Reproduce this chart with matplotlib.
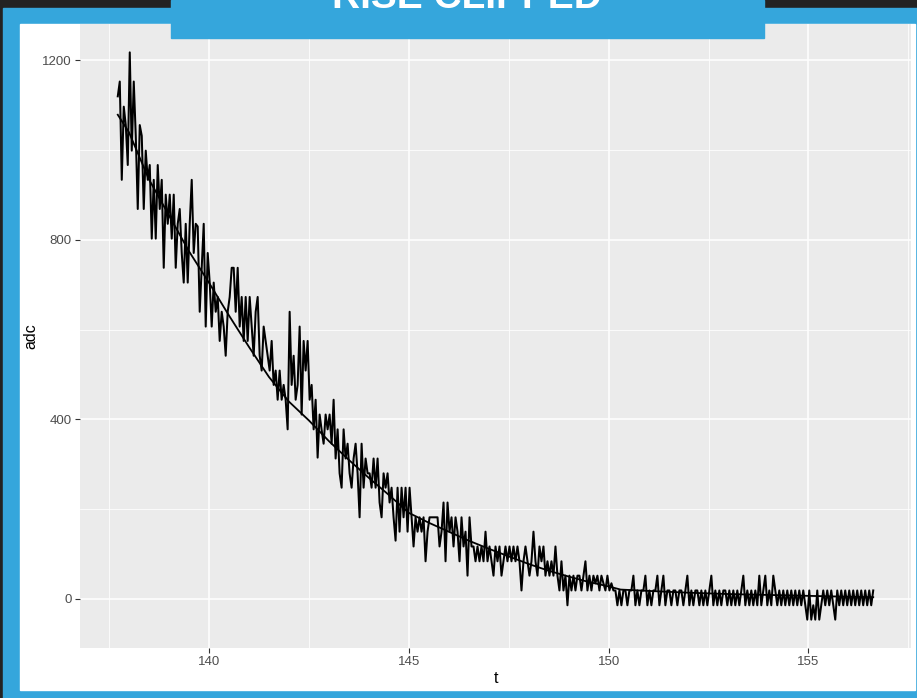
import numpy as np
import matplotlib
matplotlib.use("Agg")
import matplotlib.pyplot as plt
from matplotlib.patches import Rectangle
from matplotlib.ticker import FixedLocator

# ---- data ----
t_start = 137.72
t_step = 0.05
adc = [
    1120, 1153, 934, 1097, 1056, 967, 1218, 999, 1153, 1032,
    869, 1056, 1032, 869, 999, 934, 967, 803, 934, 803,
    967, 869, 934, 738, 901, 836, 901, 803, 901, 738,
    836, 869, 771, 705, 836, 705, 836, 934, 771, 836,
    830, 640, 738, 836, 607, 771, 705, 607, 705, 640,
    673, 575, 640, 607, 542, 640, 673, 738, 738, 640,
    738, 607, 673, 575, 673, 575, 673, 607, 542, 640,
    673, 542, 509, 607, 575, 542, 509, 575, 477, 509,
    444, 509, 444, 477, 444, 378, 640, 477, 542, 444,
    477, 607, 411, 575, 509, 575, 444, 477, 378, 444,
    315, 411, 377, 346, 411, 378, 411, 346, 444, 313,
    378, 280, 248, 378, 313, 346, 280, 248, 313, 346,
    280, 182, 346, 248, 313, 280, 280, 248, 313, 248,
    313, 215, 182, 280, 248, 280, 215, 248, 182, 130,
    248, 150, 248, 182, 248, 150, 248, 182, 117, 182,
    150, 182, 150, 182, 84, 150, 182, 182, 182, 182,
    182, 117, 150, 215, 84, 215, 150, 182, 117, 182,
    150, 84, 182, 117, 150, 52, 182, 117, 117, 84,
    117, 84, 117, 84, 150, 84, 117, 84, 52, 117,
    84, 117, 52, 84, 117, 84, 117, 84, 117, 84,
    117, 84, 19, 84, 117, 84, 52, 84, 150, 84,
    52, 117, 84, 117, 52, 84, 52, 84, 52, 117,
    52, 19, 84, 19, 52, -14, 52, 19, 52, 19,
    52, 52, 19, 52, 84, 19, 52, 19, 52, 35,
    52, 19, 52, 35, 19, 52, 19, 35, 19, 19,
    -14, 19, -14, 19, 19, -14, 19, 19, 52, -14,
    19, -14, 19, 19, 52, -14, 19, -14, 19, 19,
    52, -14, 19, 52, -14, 19, 19, -14, 19, 19,
    -14, 19, 19, -14, 19, 52, -14, 19, -14, 19,
    19, -14, 19, -14, 19, -14, 19, 52, -14, 19,
    -14, 19, -14, 19, 19, -14, 19, -14, 19, -14,
    19, -14, 19, 52, -14, 19, -14, 19, -14, 19,
    -14, 52, -14, 19, 52, -14, 19, -14, 52, 19,
    -14, 19, -14, 19, -14, 19, -14, 19, -14, 19,
    -14, 19, -14, 19, -14, -46, 19, -46, -14, -46,
    19, -46, -14, 19, -14, 19, -14, 19, -14, -46,
    19, -14, 19, -14, 19, -14, 19, -14, 19, -14,
    19, -14, 19, -14, 19, -14, 19, -14, 19,
]
fit_t = [137.72, 138.0, 138.5, 139.0, 139.5, 140.0, 140.5, 141.0, 141.5,
         142.0, 142.5, 143.0, 143.5, 144.0, 144.5, 145.0, 145.5, 146.0,
         146.5, 147.0, 147.5, 148.0, 148.5, 149.0, 149.5, 150.0, 150.3,
         151.0, 152.0, 153.0, 154.0, 155.0, 156.0, 156.62]
fit_adc = [1079, 1040, 935, 855, 775, 705, 632, 562, 495,
           440, 398, 352, 310, 270, 232, 192, 170, 150,
           130, 112, 95, 78, 63, 50, 38, 28, 21,
           18, 14, 11, 9, 7, 5, 4]

x_major = [140, 145, 150, 155]
x_minor = [137.5, 142.5, 147.5, 152.5, 157.5]
y_major = [0, 400, 800, 1200]
y_minor = [200, 600, 1000]

t = t_start + t_step * np.arange(len(adc))
adc = np.array(adc)

W, H = 917, 698
fig = plt.figure(figsize=(W / 100, H / 100), dpi=100)
fig.patch.set_facecolor("#232323")

BLUE = "#35A6DC"
# blue frame and white card
fig.patches.append(Rectangle((3 / W, 0), 914 / W, (H - 8) / H,
                             transform=fig.transFigure, color=BLUE, zorder=-10))
fig.patches.append(Rectangle((20 / W, 8 / H), 895 / W, 666 / H,
                             transform=fig.transFigure, color="white", zorder=-9))

ax = fig.add_axes([80 / W, 50 / H, 831 / W, 624 / H])
ax.set_facecolor("#EBEBEB")
ax.plot(t, adc, color="black", lw=1.45, zorder=3)
ax.plot(fit_t, fit_adc, color="black", lw=1.3, zorder=4)

# ggplot-style 5% expansion
xr = t.max() - t.min()
yr = adc.max() - adc.min()
ax.set_xlim(t.min() - 0.05 * xr, t.max() + 0.05 * xr)
ax.set_ylim(adc.min() - 0.05 * yr, adc.max() + 0.05 * yr)

ax.xaxis.set_major_locator(FixedLocator(x_major))
ax.xaxis.set_minor_locator(FixedLocator(x_minor))
ax.yaxis.set_major_locator(FixedLocator(y_major))
ax.yaxis.set_minor_locator(FixedLocator(y_minor))
ax.grid(which="major", color="white", lw=1.1)
ax.grid(which="minor", color="white", lw=0.55)
ax.set_axisbelow(True)
for s in ax.spines.values():
    s.set_visible(False)
ax.tick_params(which="major", length=3.5, width=0.8, color="#333333",
               labelcolor="#4D4D4D", labelsize=9.5, pad=2.5)
ax.tick_params(which="minor", length=0)
for lab in ax.get_xticklabels() + ax.get_yticklabels():
    lab.set_family("Liberation Sans")

ax.set_xlabel("t", family="Liberation Sans", fontsize=11.5, labelpad=2)
ax.set_ylabel("adc", family="Liberation Sans", fontsize=11.5, labelpad=3)

# title banner, clipped at the top edge as in the source
fig.patches.append(Rectangle((171 / W, (H - 38) / H), 593 / W, 38 / H,
                             transform=fig.transFigure, color=BLUE, zorder=5))
fig.text(467 / W, 1 - 8 / H, "RISE CLIPPED", color="white", fontsize=28,
         fontweight="bold", family="Liberation Sans", ha="center",
         va="baseline", zorder=6)

fig.savefig("out.png", dpi=100, facecolor=fig.get_facecolor())
